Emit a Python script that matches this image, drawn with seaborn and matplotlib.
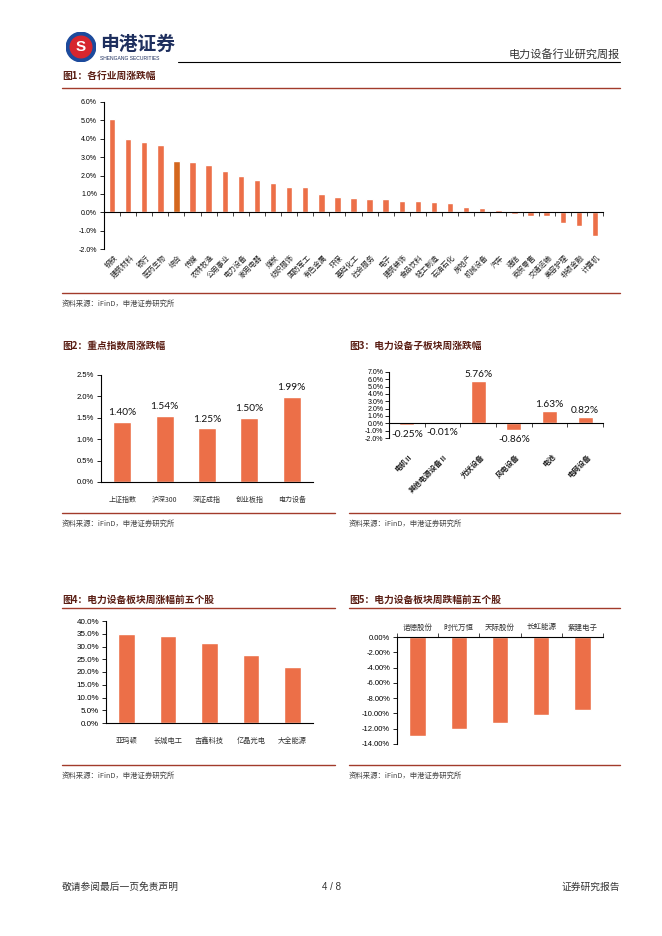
import numpy as np
import matplotlib
matplotlib.use("Agg")
import matplotlib.pyplot as plt
import seaborn as sns
from matplotlib.lines import Line2D
from matplotlib.patches import Circle
from matplotlib.ticker import FormatStrFormatter

# ----------------------------------
# Data
# ----------------------------------
ind_names = ["钢铁", "建筑材料", "银行", "医药生物", "综合", "传媒", "农林牧渔", "公用事业",
             "电力设备", "家用电器", "煤炭", "纺织服饰", "国防军工", "有色金属", "环保",
             "基础化工", "社会服务", "电子", "建筑装饰", "食品饮料", "轻工制造", "石油石化",
             "房地产", "机械设备", "汽车", "通信", "商贸零售", "交通运输", "美容护理",
             "非银金融", "计算机"]
ind_chg = [5.07, 3.98, 3.80, 3.65, 2.80, 2.71, 2.56, 2.27, 1.98, 1.73, 1.60, 1.36, 1.36,
           1.02, 0.82, 0.79, 0.73, 0.73, 0.62, 0.62, 0.55, 0.49, 0.27, 0.25, 0.11, -0.09,
           -0.18, -0.20, -0.56, -0.75, -1.29]
highlight = "综合"

idx_names = ["上证指数", "沪深300", "深证成指", "创业板指", "电力设备"]
idx_chg = [1.40, 1.54, 1.25, 1.50, 1.99]

sub_names = ["电机Ⅱ", "其他电源设备Ⅱ", "光伏设备", "风电设备", "电池", "电网设备"]
sub_chg = [-0.25, -0.01, 5.76, -0.86, 1.63, 0.82]

top_names = ["亚玛顿", "长城电工", "吉鑫科技", "亿晶光电", "大全能源"]
top_chg = [34.8, 34.3, 31.5, 26.8, 22.1]

bot_names = ["诺德股份", "时代万恒", "天际股份", "长虹能源", "紫建电子"]
bot_chg = [-12.95, -12.10, -11.30, -10.15, -9.60]

# ----------------------------------
# Style
# ----------------------------------
sns.set_theme(style="white")
plt.rcParams["font.family"] = ["Liberation Sans", "Noto Sans CJK SC", "DejaVu Sans"]
plt.rcParams["axes.unicode_minus"] = False

BAR = "#EC6F48"
BAR_DARK = "#D4671E"
TITLE_C = "#5A1E14"
LINE_C = "#A23B2B"
CJK = ["Noto Sans CJK SC", "DejaVu Sans"]

W, H = 662, 936
fig = plt.figure(figsize=(W / 100, H / 100), dpi=100)


def rect(x0, y0, x1, y1):
    return [x0 / W, 1 - y1 / H, (x1 - x0) / W, (y1 - y0) / H]


def ftext(x, y, s, **kw):
    fig.text(x / W, 1 - y / H, s, **kw)


def hline(x0, x1, y, color=LINE_C, lw=1.0):
    fig.add_artist(Line2D([x0 / W, x1 / W], [1 - y / H, 1 - y / H], color=color, lw=lw))


def style_axes(ax, fmt, ysize):
    for s in ["top", "right"]:
        ax.spines[s].set_visible(False)
    for s in ["left", "bottom"]:
        ax.spines[s].set_color("black")
        ax.spines[s].set_linewidth(0.8)
    ax.yaxis.set_major_formatter(FormatStrFormatter(fmt))
    ax.tick_params(axis="y", left=True, direction="out", length=3, width=0.6,
                   labelsize=ysize, colors="black", pad=2)
    ax.set_xlabel("")
    ax.set_ylabel("")
    ax.grid(False)


def bars(ax, names, vals, colors, width):
    sns.barplot(x=names, y=vals, hue=names, palette=colors, legend=False,
                width=width, saturation=1, ax=ax)
    ax.set_xlim(-0.5, len(names) - 0.5)


def panel_frame(x0, x1, y_title, y_line, y_bottom, title, line_under_title=True):
    ftext(x0, y_title, title, fontsize=7, fontweight="bold", color=TITLE_C,
          family=CJK, va="center")
    if line_under_title:
        hline(x0, x1, y_line)
    hline(x0, x1, y_bottom)
    ftext(x0, y_bottom + 11, "资料来源：iFinD，申港证券研究所", fontsize=5.3,
          color="#444444", family=CJK, va="center", style="italic")


# ----------------------------------
# Header / footer
# ----------------------------------
logo = fig.add_axes(rect(66, 32, 96, 62))
logo.set_xlim(-1, 1)
logo.set_ylim(-1, 1)
logo.set_aspect("equal")
logo.axis("off")
logo.add_patch(Circle((0, 0), 0.98, color="#1C4A9C"))
logo.add_patch(Circle((0, 0), 0.72, color="#D7262E"))
logo.text(0, -0.02, "S", ha="center", va="center", color="white",
          fontsize=11, fontweight="bold")
ftext(100, 44, "申港证券", fontsize=13.5, fontweight="bold", color="#1E2F5E",
      family=CJK, va="center")
ftext(100, 58, "SHENGANG SECURITIES", fontsize=3.6, color="#1E2F5E", va="center")
ftext(620, 54, "电力设备行业研究周报", fontsize=8, color="#333333", family=CJK,
      ha="right", va="center")
hline(178, 620, 62, color="black", lw=0.8)

ftext(62, 887, "敬请参阅最后一页免责声明", fontsize=7, color="#333333", family=CJK, va="center")
ftext(331, 887, "4 / 8", fontsize=7, color="#333333", ha="center", va="center")
ftext(620, 887, "证券研究报告", fontsize=7, color="#333333", family=CJK,
      ha="right", va="center")

# ----------------------------------
# Fig 1: industries
# ----------------------------------
panel_frame(62, 620, 76, 88, 293, "图1：各行业周涨跌幅")
ax1 = fig.add_axes(rect(104, 102, 603, 249))
colors1 = {n: (BAR_DARK if n == highlight else BAR) for n in ind_names}
bars(ax1, ind_names, ind_chg, colors1, 0.4)
ax1.set_ylim(-2, 6)
ax1.set_yticks(np.arange(-2, 7, 1))
style_axes(ax1, "%.1f%%", 5)
ax1.spines["bottom"].set_position(("data", 0))
ax1.set_xticks(np.arange(len(ind_names) + 1) - 0.5)
ax1.set_xticklabels([])
ax1.tick_params(axis="x", bottom=True, direction="out", length=3, width=0.6)
for i, name in enumerate(ind_names):
    ax1.text(i + 0.1, -0.03, name, transform=ax1.get_xaxis_transform(), rotation=45,
             rotation_mode="anchor", ha="right", va="top", fontsize=5.2, family=CJK,
             color="#222222")

# ----------------------------------
# Fig 2: key indices
# ----------------------------------
panel_frame(62, 335, 346, 357, 513, "图2：重点指数周涨跌幅", line_under_title=False)
ax2 = fig.add_axes(rect(101, 375, 313, 482))
bars(ax2, idx_names, idx_chg, {n: BAR for n in idx_names}, 0.42)
ax2.set_ylim(0, 2.5)
ax2.set_yticks(np.arange(0, 2.51, 0.5))
style_axes(ax2, "%.1f%%", 5.5)
ax2.tick_params(axis="x", bottom=False, labelsize=5, pad=4, colors="#333333")
for lab in ax2.get_xticklabels():
    lab.set_family(CJK)
for i, v in enumerate(idx_chg):
    ax2.annotate(f"{v:.2f}%", (i, v), xytext=(0, 3.5), textcoords="offset points",
                 ha="center", va="bottom", fontsize=7.3, family="Lato", color="#111111")

# ----------------------------------
# Fig 3: sub-sectors
# ----------------------------------
panel_frame(349, 620, 346, 357, 513, "图3：电力设备子板块周涨跌幅", line_under_title=False)
ax3 = fig.add_axes(rect(389, 372, 603, 438))
bars(ax3, sub_names, sub_chg, {n: BAR for n in sub_names}, 0.42)
ax3.set_ylim(-2, 7)
ax3.set_yticks(np.arange(-2, 8, 1))
style_axes(ax3, "%.1f%%", 5)
ax3.tick_params(axis="y", pad=1)
ax3.spines["bottom"].set_position(("data", 0))
ax3.set_xticks(np.arange(len(sub_names) + 1) - 0.5)
ax3.set_xticklabels([])
ax3.tick_params(axis="x", bottom=True, direction="out", length=3, width=0.6)
for i, name in enumerate(sub_names):
    ax3.text(i + 0.05, -0.22, name, transform=ax3.get_xaxis_transform(), rotation=45,
             rotation_mode="anchor", ha="right", va="top", fontsize=5.3, family=CJK,
             fontweight="bold", color="#222222")
for i, v in enumerate(sub_chg):
    if v >= 0:
        ax3.annotate(f"{v:.2f}%", (i, v), xytext=(0, 1.5), textcoords="offset points",
                     ha="center", va="bottom", fontsize=7.3, family="Lato", color="#111111")
    else:
        ax3.annotate(f"{v:.2f}%", (i, v), xytext=(0, -3.5), textcoords="offset points",
                     ha="center", va="top", fontsize=7.3, family="Lato", color="#111111")

# ----------------------------------
# Fig 4: top gainers
# ----------------------------------
panel_frame(62, 335, 600, 608, 765, "图4：电力设备板块周涨幅前五个股")
ax4 = fig.add_axes(rect(106, 621, 313, 723))
bars(ax4, top_names, top_chg, {n: BAR for n in top_names}, 0.4)
ax4.set_ylim(0, 40)
ax4.set_yticks(np.arange(0, 41, 5))
style_axes(ax4, "%.1f%%", 5.8)
ax4.tick_params(axis="x", bottom=False, labelsize=5.2, pad=4, colors="#333333")
for lab in ax4.get_xticklabels():
    lab.set_family(CJK)

# ----------------------------------
# Fig 5: top losers
# ----------------------------------
panel_frame(349, 620, 600, 608, 765, "图5：电力设备板块周跌幅前五个股")
ax5 = fig.add_axes(rect(397, 637, 603, 744))
bars(ax5, bot_names, bot_chg, {n: BAR for n in bot_names}, 0.4)
ax5.set_ylim(-14, 0)
ax5.set_yticks(np.arange(-14, 1, 2))
style_axes(ax5, "%.2f%%", 5.5)
ax5.spines["bottom"].set_visible(False)
ax5.spines["top"].set_visible(True)
ax5.spines["top"].set_color("black")
ax5.spines["top"].set_linewidth(0.8)
ax5.xaxis.tick_top()
ax5.set_xticks(range(len(bot_names)))
ax5.set_xticklabels(bot_names)
ax5.set_xticks(np.arange(len(bot_names) + 1) - 0.5, minor=True)
ax5.tick_params(axis="x", which="major", top=True, bottom=False, length=0,
                labelsize=5.4, pad=4, colors="#333333")
ax5.tick_params(axis="x", which="minor", top=True, bottom=False, direction="out",
                length=3, width=0.6)
for lab in ax5.get_xticklabels():
    lab.set_family(CJK)

fig.savefig("out.png", dpi=100)
